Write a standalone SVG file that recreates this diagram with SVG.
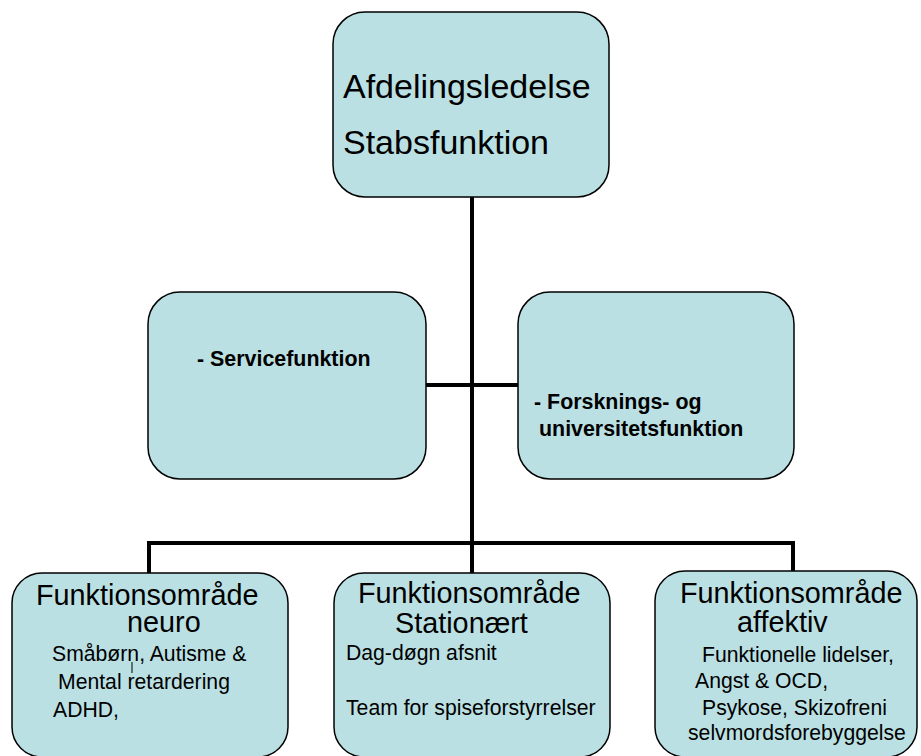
<svg xmlns="http://www.w3.org/2000/svg" width="921" height="756" viewBox="0 0 921 756">
<style>
.box{fill:#BBE0E3;stroke:#000;stroke-width:1.5}
.con{stroke:#000;stroke-width:4;fill:none}
text{font-family:"Liberation Sans",Arial,sans-serif;fill:#000}
.big{font-size:34px}
.hd{font-size:28.8px}
.sub{font-size:21.2px}
.bold{font-size:21.4px;font-weight:bold}
</style>
<rect width="921" height="756" fill="#fff"/>
<g id="connectors">
<line class="con" x1="472" y1="197" x2="472" y2="545"/>
<line class="con" x1="426" y1="385" x2="518" y2="385"/>
<polyline class="con" points="149,573 149,543 793,543 793,571"/>
<line class="con" x1="472" y1="543" x2="472" y2="573"/>
</g>
<g id="top">
<rect class="box" x="333" y="12" width="276" height="185" rx="32"/>
<text class="big" x="343" y="98">Afdelingsledelse</text>
<text class="big" x="343" y="154">Stabsfunktion</text>
</g>
<g id="service">
<rect class="box" x="148" y="292" width="278" height="187" rx="32"/>
<text class="bold" x="197" y="366">- Servicefunktion</text>
</g>
<g id="forskning">
<rect class="box" x="518" y="292" width="276" height="187" rx="32"/>
<text class="bold" x="534" y="409">- Forsknings- og</text>
<text class="bold" x="539" y="436">universitetsfunktion</text>
</g>
<g id="neuro">
<rect class="box" x="12" y="573" width="276" height="184" rx="30"/>
<text class="hd" x="36" y="605">Funktionsområde</text>
<text class="hd" x="127" y="632">neuro</text>
<text class="sub" x="52" y="661">Småbørn, Autisme &amp;</text>
<text class="sub" x="58" y="689">Mental retardering</text>
<text class="sub" x="53" y="717">ADHD,</text>
<line x1="132" y1="662" x2="132" y2="673" stroke="#000" stroke-width="1"/>
</g>
<g id="stationaert">
<rect class="box" x="334" y="573" width="276" height="184" rx="30"/>
<text class="hd" x="358" y="603">Funktionsområde</text>
<text class="hd" x="395" y="633">Stationært</text>
<text class="sub" x="346" y="660">Dag-døgn afsnit</text>
<text class="sub" x="346" y="715">Team for spiseforstyrrelser</text>
</g>
<g id="affektiv">
<rect class="box" x="655" y="571" width="262" height="186" rx="30"/>
<text class="hd" x="680" y="603">Funktionsområde</text>
<text class="hd" x="737" y="632">affektiv</text>
<text class="sub" x="702" y="662">Funktionelle lidelser,</text>
<text class="sub" x="695" y="688">Angst &amp; OCD,</text>
<text class="sub" x="702" y="715">Psykose, Skizofreni</text>
<text class="sub" x="688" y="740">selvmordsforebyggelse</text>
</g>
</svg>
